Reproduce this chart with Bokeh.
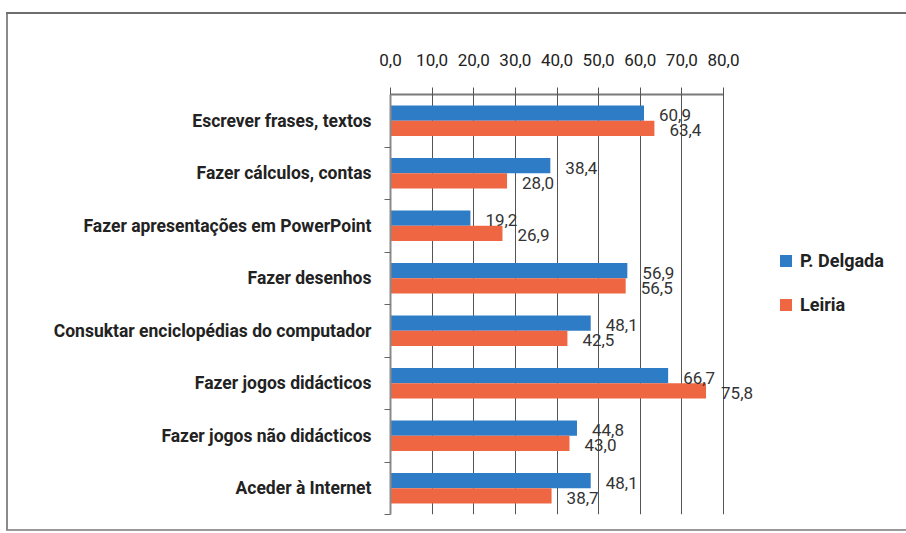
from bokeh.plotting import figure
from bokeh.models import (Range1d, FixedTicker, ColumnDataSource,
                          Legend, LegendItem)
from bokeh.core.properties import value
from bokeh.embed import file_html
from bokeh.resources import INLINE

categories = [
    "Escrever frases, textos",
    "Fazer cálculos, contas",
    "Fazer apresentações em PowerPoint",
    "Fazer desenhos",
    "Consuktar enciclopédias do computador",
    "Fazer jogos didácticos",
    "Fazer jogos não didácticos",
    "Aceder à Internet",
]
p_delgada = [60.9, 38.4, 19.2, 56.9, 48.1, 66.7, 44.8, 48.1]
leiria = [63.4, 28.0, 26.9, 56.5, 42.5, 75.8, 43.0, 38.7]
series_names = ["P. Delgada", "Leiria"]
tick_values = [0, 10, 20, 30, 40, 50, 60, 70, 80]
tick_labels = ["0,0", "10,0", "20,0", "30,0", "40,0", "50,0", "60,0", "70,0", "80,0"]

BLUE = "#2f7cc6"
RED = "#ee6742"
FONT = "Roboto"

n = len(categories)
centers = [i + 0.5 for i in range(n)]
bar_h = 0.29
off = 0.145

def fmt(v):
    return f"{v:.1f}".replace(".", ",")

src_b = ColumnDataSource(dict(y=[c - off for c in centers], v=p_delgada,
                              t=[fmt(v) for v in p_delgada]))
src_r = ColumnDataSource(dict(y=[c + off for c in centers], v=leiria,
                              t=[fmt(v) for v in leiria]))

x_end = 498 / (333 / 80)
p = figure(width=906, height=533, output_backend="svg", toolbar_location=None,
           x_range=Range1d(0, x_end), y_range=Range1d(n, 0),
           x_axis_location="above",
           min_border_left=390, min_border_top=94, min_border_bottom=19,
           min_border_right=18)
p.outline_line_color = None
p.background_fill_color = "white"
p.border_fill_color = None
p.styles = {
    "background-color": "white",
    "background-image": ("linear-gradient(#6e6e6e,#6e6e6e),"
                         "linear-gradient(#8a8a8a,#8a8a8a),"
                         "linear-gradient(#9a9a9a,#9a9a9a)"),
    "background-size": "900px 2px, 2px 518px, 900px 2px",
    "background-position": "6px 12px, 6px 12px, 6px 529px",
    "background-repeat": "no-repeat",
}

rb = p.hbar(y="y", left=0, right="v", height=bar_h, source=src_b,
            fill_color=BLUE, line_color=None)
rr = p.hbar(y="y", left=0, right="v", height=bar_h, source=src_r,
            fill_color=RED, line_color=None)

for src in (src_b, src_r):
    p.text(x="v", y="y", text="t", source=src, x_offset=15, y_offset=2,
           text_baseline="middle", text_align="left",
           text_font=value(FONT), text_font_size="17px", text_color="#333333")

# top x axis
xa = p.xaxis[0]
xa.ticker = FixedTicker(ticks=tick_values)
xa.major_label_overrides = {v: l for v, l in zip(tick_values, tick_labels)}
xa.bounds = (tick_values[0], tick_values[-1])
xa.axis_line_color = "#7a7a7a"
xa.axis_line_width = 2
xa.major_tick_in = 7
xa.major_tick_out = 7
xa.major_tick_line_color = "#555555"
xa.minor_tick_line_color = None
xa.major_label_text_font = FONT
xa.major_label_text_font_size = "17px"
xa.major_label_text_color = "#222222"
xa.major_label_standoff = 22

# left y axis
ya = p.yaxis[0]
ya.ticker = FixedTicker(ticks=centers, minor_ticks=list(range(1, n + 1)))
ya.major_label_overrides = {c: cat for c, cat in zip(centers, categories)}
ya.axis_line_color = "#8a8a8a"
ya.axis_line_width = 2
ya.major_tick_in = 0
ya.major_tick_out = 0
ya.minor_tick_in = 0
ya.minor_tick_out = 6
ya.minor_tick_line_color = "#666666"
ya.major_label_text_font = FONT
ya.major_label_text_font_size = "17.5px"
ya.major_label_text_font_style = "bold"
ya.major_label_text_color = "#222222"
ya.major_label_standoff = 13

p.xgrid.ticker = FixedTicker(ticks=tick_values[1:])
p.xgrid.grid_line_color = "#555555"
p.xgrid.grid_line_width = 1
p.ygrid.grid_line_color = None

legend = Legend(items=[LegendItem(label=series_names[0], renderers=[rb]),
                       LegendItem(label=series_names[1], renderers=[rr])],
                location=(388, 199), orientation="vertical")
legend.glyph_width = 15
legend.glyph_height = 15
legend.label_standoff = 7
legend.label_height = 20
legend.spacing = 23
legend.padding = 0
legend.margin = 0
legend.border_line_color = None
legend.background_fill_alpha = 0
legend.label_text_font = FONT
legend.label_text_font_size = "18px"
legend.label_text_font_style = "bold"
legend.label_text_color = "#222222"
p.add_layout(legend)

open("out.html", "w").write(file_html(p, INLINE))
